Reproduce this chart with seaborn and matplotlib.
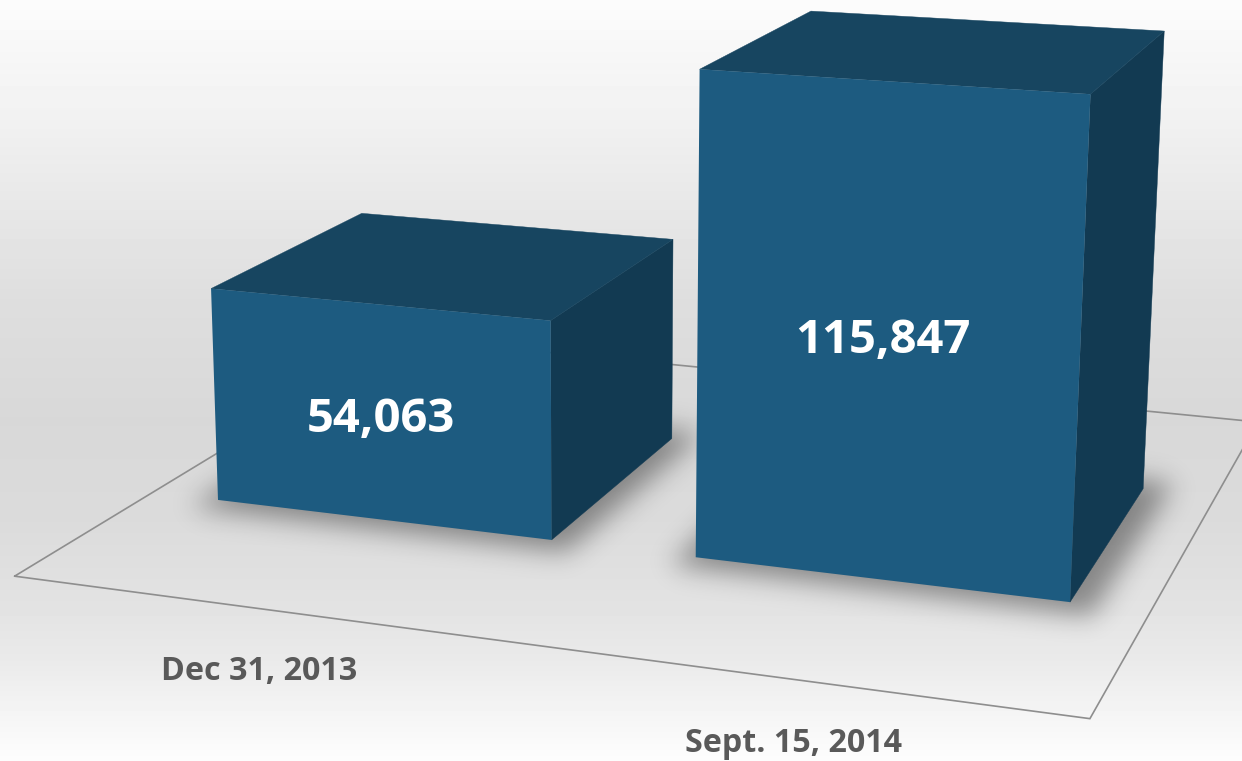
import numpy as np
import pandas as pd
import matplotlib
matplotlib.use("Agg")
import matplotlib.pyplot as plt
import seaborn as sns
from matplotlib.path import Path
from matplotlib.patches import Polygon
from matplotlib.lines import Line2D
from matplotlib.transforms import Transform, IdentityTransform

# Chart data
dates = ["Dec 31, 2013", "Sept. 15, 2014"]
counts = [54063, 115847]
count_labels = ["54,063", "115,847"]

WIDTH_PX, HEIGHT_PX = 1242, 761
BAR_WIDTH = 0.71
UNIT = 1e5

# Pinhole camera: (category, value / UNIT, depth, 1) -> homogeneous pixel position
CAMERA = np.array([
    [4.482720e+02, -2.015579e+01, 1.895788e+02, 3.814711e+02],
    [2.725741e+01, -4.083309e+02, -5.263388e+01, 5.195382e+02],
    [-5.596267e-02, -3.343582e-02, 1.067189e-01, 1.000000e+00],
])


def project(x, y, z=0.0):
    """Map category/value/depth to display coordinates."""
    x, y = np.asarray(x, float), np.asarray(y, float)
    world = np.stack([x, y / UNIT, np.full_like(x, z), np.ones_like(x)], axis=-1)
    h = world @ CAMERA.T
    return np.stack([h[..., 0] / h[..., 2], HEIGHT_PX - h[..., 1] / h[..., 2]], axis=-1)


class FrontPlane(Transform):
    """Non-affine transform that lays the bar plot's data space on the z = 0 plane."""
    input_dims = 2
    output_dims = 2

    def transform_non_affine(self, values):
        values = np.asarray(values, float)
        return project(values[:, 0], values[:, 1])


sns.set_theme(style="white")
fig = plt.figure(figsize=(WIDTH_PX / 100, HEIGHT_PX / 100), dpi=100)

# Backdrop: vertical grey gradient
grad_y = [0, 40, 120, 200, 300, 420, 520, 600, 660, 720, 761]
grad_v = [252, 248, 241, 232, 222, 216, 219, 226, 234, 246, 253]
bg_ax = fig.add_axes([0, 0, 1, 1])
column = np.interp(np.arange(HEIGHT_PX), grad_y, grad_v) / 255
bg_ax.imshow(column[:, None], cmap="gray", vmin=0, vmax=1, aspect="auto",
             extent=(0, WIDTH_PX, 0, HEIGHT_PX), origin="upper")
bg_ax.set_axis_off()

# The bars themselves
ax = fig.add_axes([0, 0, 1, 1])
ax.patch.set_alpha(0)
frame = pd.DataFrame({"date": dates, "count": counts})
front_color, top_color, side_color = "#1D5B80", "#174560", "#123A52"
sns.barplot(data=frame, x="date", y="count", ax=ax, width=BAR_WIDTH,
            color=front_color, saturation=1, linewidth=0)
ax.set_axis_off()
bars = list(ax.patches)
front_plane = FrontPlane()
for bar in bars:
    bar.set_transform(front_plane)
    bar.set_clip_on(False)
    bar.set_zorder(6)
    bar.set_antialiased(True)

display = IdentityTransform()


def add_face(points, color, zorder):
    ax.add_patch(Polygon(points, closed=True, facecolor=color, edgecolor=color,
                         linewidth=0.3, transform=display, clip_on=False, zorder=zorder))


# Floor outline, drawn behind everything else on the ground plane
floor_x = [-0.5, 1.5, 1.5, -0.5, -0.5]
floor_z = [-0.757, -0.757, 1.78, 1.78, -0.757]
corners = np.array([project(x, 0.0, z) for x, z in zip(floor_x, floor_z)])
ax.add_line(Line2D(corners[:, 0], corners[:, 1], color="#8E8E8E", linewidth=1.2,
                   transform=display, clip_on=True, zorder=2, solid_joinstyle="miter"))

# Soft contact shadows from each bar's footprint
grid_x, grid_y = np.meshgrid(np.arange(WIDTH_PX) + 0.5, np.arange(HEIGHT_PX) + 0.5)
grid = np.c_[grid_x.ravel(), grid_y.ravel()]
mask = np.zeros(grid.shape[0], float)
SPREAD_LEFT, SPREAD_RIGHT, SPREAD_Z = 0.03, 0.05, 0.08
for bar in bars:
    left, right = bar.get_x() - SPREAD_LEFT, bar.get_x() + bar.get_width() + SPREAD_RIGHT
    foot = np.array([project(left, 0.0, -SPREAD_Z), project(right, 0.0, -SPREAD_Z),
                     project(right, 0.0, 1 + SPREAD_Z), project(left, 0.0, 1 + SPREAD_Z)])
    foot[:, 1] = HEIGHT_PX - foot[:, 1]
    mask = np.maximum(mask, Path(foot).contains_points(grid).astype(float))
mask = mask.reshape(grid_x.shape)
sigma = 13.0
reach = np.arange(-42, 43)
kernel = np.exp(-0.5 * (reach / sigma) ** 2)
kernel /= kernel.sum()
blurred = np.apply_along_axis(lambda r: np.convolve(r, kernel, mode="same"), 1, mask)
blurred = np.apply_along_axis(lambda c: np.convolve(c, kernel, mode="same"), 0, blurred)
shadow = np.zeros(mask.shape + (4,))
shadow[..., 3] = np.clip(blurred * 0.40, 0, 1)
bg_ax.imshow(shadow, aspect="auto", extent=(0, WIDTH_PX, 0, HEIGHT_PX), origin="upper", zorder=3)
bg_ax.set_xlim(0, WIDTH_PX)
bg_ax.set_ylim(0, HEIGHT_PX)

# Side and top faces share the front rectangles' geometry
for bar in bars:
    left, right = bar.get_x(), bar.get_x() + bar.get_width()
    value = bar.get_height()
    add_face([project(right, 0.0, 0.0), project(right, value, 0.0),
              project(right, value, 1.0), project(right, 0.0, 1.0)], side_color, 4)
    add_face([project(left, value, 0.0), project(right, value, 0.0),
              project(right, value, 1.0), project(left, value, 1.0)], top_color, 5)

# Values on the front faces, dates on the floor in front of the bars
value_nudge = [(1, -7), (-2, -5)]
for bar, label, (nudge_x, nudge_y) in zip(bars, count_labels, value_nudge):
    cx, cy = project(bar.get_x() + bar.get_width() / 2, bar.get_height() / 2)
    ax.text(cx + nudge_x, cy + nudge_y, label, transform=display, ha="center", va="center",
            family="Open Sans", fontweight="bold", fontsize=34, color="white", zorder=8)

date_shift = [0.131, 0.076]
date_nudge = [-4, -1]
for i, (label, shift, nudge_y) in enumerate(zip(dates, date_shift, date_nudge)):
    cx, cy = project(i + shift, 0.0, -1.128)
    ax.text(cx, cy + nudge_y, label, transform=display, ha="center", va="center",
            family="Open Sans", fontweight="bold", fontsize=23.2, color="#595959", zorder=8)

fig.savefig("out.png", dpi=100)
